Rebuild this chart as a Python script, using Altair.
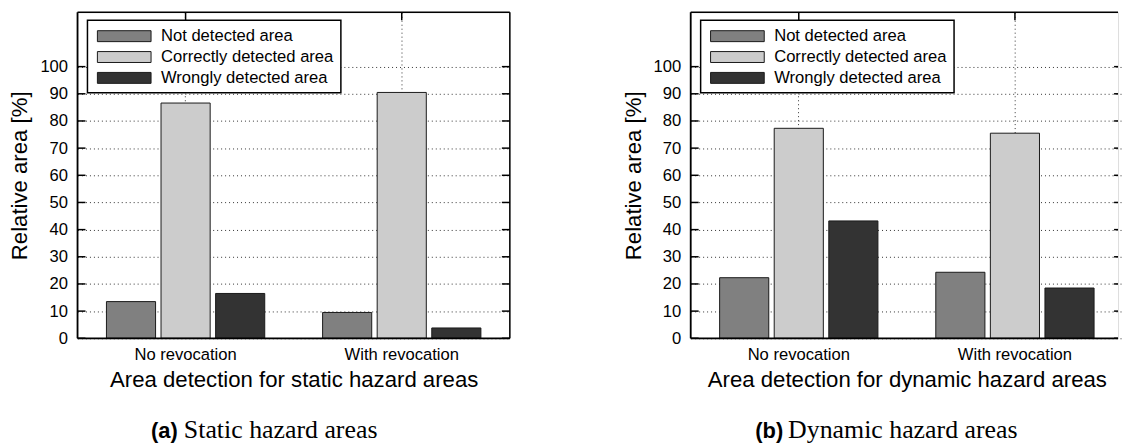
import altair as alt
import pandas as pd

groups = ["No revocation", "With revocation"]
series = ["Not detected area", "Correctly detected area", "Wrongly detected area"]
colors = ["#808080", "#cccccc", "#333333"]

static_not = [13.5, 9.5]
static_correct = [86.6, 90.5]
static_wrong = [16.5, 3.8]

dynamic_not = [22.3, 24.3]
dynamic_correct = [77.3, 75.5]
dynamic_wrong = [43.2, 18.5]

y_ticks = [0, 10, 20, 30, 40, 50, 60, 70, 80, 90, 100]

FONT = "Liberation Sans"
SERIF = "Liberation Serif"
FS = 16.7
TFS = 22.3


def build_df(nd, cd, wd):
    rows = []
    for gi, g in enumerate(groups):
        for s, vals in zip(series, [nd, cd, wd]):
            rows.append({"group": g, "series": s, "value": vals[gi]})
    return pd.DataFrame(rows)


def panel(df, xtitle, width, xrange_w, right_frame, cap_tag, cap_text, cap_x, cap_x2):
    height = 328
    xscale = alt.Scale(domain=groups, paddingInner=0, paddingOuter=0, range=[0, xrange_w])
    yscale = alt.Scale(domain=[0, 120], nice=False, zero=True)
    x_axis = alt.Axis(title=xtitle, labelAngle=0, grid=True, bandPosition=0.5,
                      gridDash=[1, 3], gridColor="#333", gridWidth=1,
                      ticks=False, tickSize=0, domain=False,
                      labelFont=FONT, labelFontSize=FS, labelColor="black",
                      labelPadding=8, titleFont=FONT, titleFontSize=TFS,
                      titleFontWeight="normal", titleColor="black", titlePadding=6)
    y_axis = alt.Axis(title="Relative area [%]", values=y_ticks, grid=True,
                      gridDash=[1, 3], gridColor="#333", gridWidth=1,
                      ticks=False, tickSize=0, domain=False, labelOverlap=False,
                      labelFont=FONT, labelFontSize=FS, labelColor="black",
                      labelPadding=10, titleFont=FONT, titleFontSize=TFS,
                      titleFontWeight="normal", titleColor="black", titlePadding=8)
    base = alt.Chart(df)
    bars = base.mark_bar(stroke="#1a1a1a", strokeWidth=1).encode(
        x=alt.X("group:N", sort=groups, scale=xscale, axis=x_axis),
        xOffset=alt.XOffset("series:N", sort=series,
                            scale=alt.Scale(domain=series, paddingInner=0.1, paddingOuter=0.53)),
        y=alt.Y("value:Q", scale=yscale, axis=y_axis),
        color=alt.Color("series:N", scale=alt.Scale(domain=series, range=colors), legend=None),
    )
    tdf = pd.DataFrame({"value": y_ticks})
    lticks = alt.Chart(tdf).mark_rule(color="black", strokeWidth=1.5).encode(
        y=alt.Y("value:Q", scale=yscale, axis=y_axis), x=alt.value(0), x2=alt.value(8))
    rx = xrange_w - 8
    rticks = alt.Chart(tdf).mark_rule(color="black", strokeWidth=1.5).encode(
        y=alt.Y("value:Q", scale=yscale, axis=y_axis),
        x=alt.value(min(rx, width - 4)), x2=alt.value(width))
    gdf = pd.DataFrame({"group": groups})
    tticks = alt.Chart(gdf).mark_rule(color="black", strokeWidth=1.5).encode(
        x=alt.X("group:N", sort=groups, scale=xscale, bandPosition=0.5, axis=x_axis),
        y=alt.value(0), y2=alt.value(8))

    one_row = pd.DataFrame({"k": [0]})
    frame = [
        alt.Chart(one_row).mark_rule(color="black", strokeWidth=1.5).encode(
            x=alt.value(0), x2=alt.value(width), y=alt.value(0)),
        alt.Chart(one_row).mark_rule(color="black", strokeWidth=1.8).encode(
            x=alt.value(0), x2=alt.value(width), y=alt.value(height)),
        alt.Chart(one_row).mark_rule(color="black", strokeWidth=1.8).encode(
            x=alt.value(0), y=alt.value(0), y2=alt.value(height)),
    ]
    if right_frame:
        frame.append(alt.Chart(one_row).mark_rule(color="black", strokeWidth=1.5).encode(
            x=alt.value(width), y=alt.value(0), y2=alt.value(height)))

    layers = [bars, lticks, rticks, tticks] + frame
    box = alt.Chart(one_row).mark_rect(fill="white", stroke="black", strokeWidth=1.5).encode(
        x=alt.value(10), x2=alt.value(265), y=alt.value(8), y2=alt.value(81))
    layers.append(box)
    rows_y = [24, 45, 66]
    for s, c, ry in zip(series, colors, rows_y):
        one = pd.DataFrame({"label": [s]})
        sw = alt.Chart(one).mark_rect(fill=c, stroke="#1a1a1a", strokeWidth=1).encode(
            x=alt.value(20), x2=alt.value(74), y=alt.value(ry - 5.5), y2=alt.value(ry + 5.5))
        tx = alt.Chart(one).mark_text(align="left", baseline="middle", font=FONT,
                                      fontSize=FS, color="black").encode(
            x=alt.value(84), y=alt.value(ry), text="label:N")
        layers += [sw, tx]
    cap1 = alt.Chart(pd.DataFrame({"c": [cap_tag]})).mark_text(
        align="left", baseline="alphabetic", font=FONT, fontWeight="bold",
        fontSize=22, color="black").encode(x=alt.value(cap_x), y=alt.value(428), text="c:N")
    cap2 = alt.Chart(pd.DataFrame({"c": [cap_text]})).mark_text(
        align="left", baseline="alphabetic", font=SERIF,
        fontSize=26, color="black").encode(x=alt.value(cap_x2), y=alt.value(428), text="c:N")
    layers += [cap1, cap2]
    return alt.layer(*layers).properties(width=width, height=height)


left = panel(build_df(static_not, static_correct, static_wrong),
             "Area detection for static hazard areas", 435, 435, True,
             "(a)", "Static hazard areas", 74, 107)
right = panel(build_df(dynamic_not, dynamic_correct, dynamic_wrong),
              "Area detection for dynamic hazard areas", 430, 435, False,
              "(b)", "Dynamic hazard areas", 65, 98)

chart = alt.hconcat(left, right, spacing=110).properties(
    padding={"left": 8, "top": 9, "right": 0, "bottom": 0}
).configure_view(strokeWidth=0).configure(background="white")

chart.save("out.html", embed_options={"renderer": "svg", "actions": False})
